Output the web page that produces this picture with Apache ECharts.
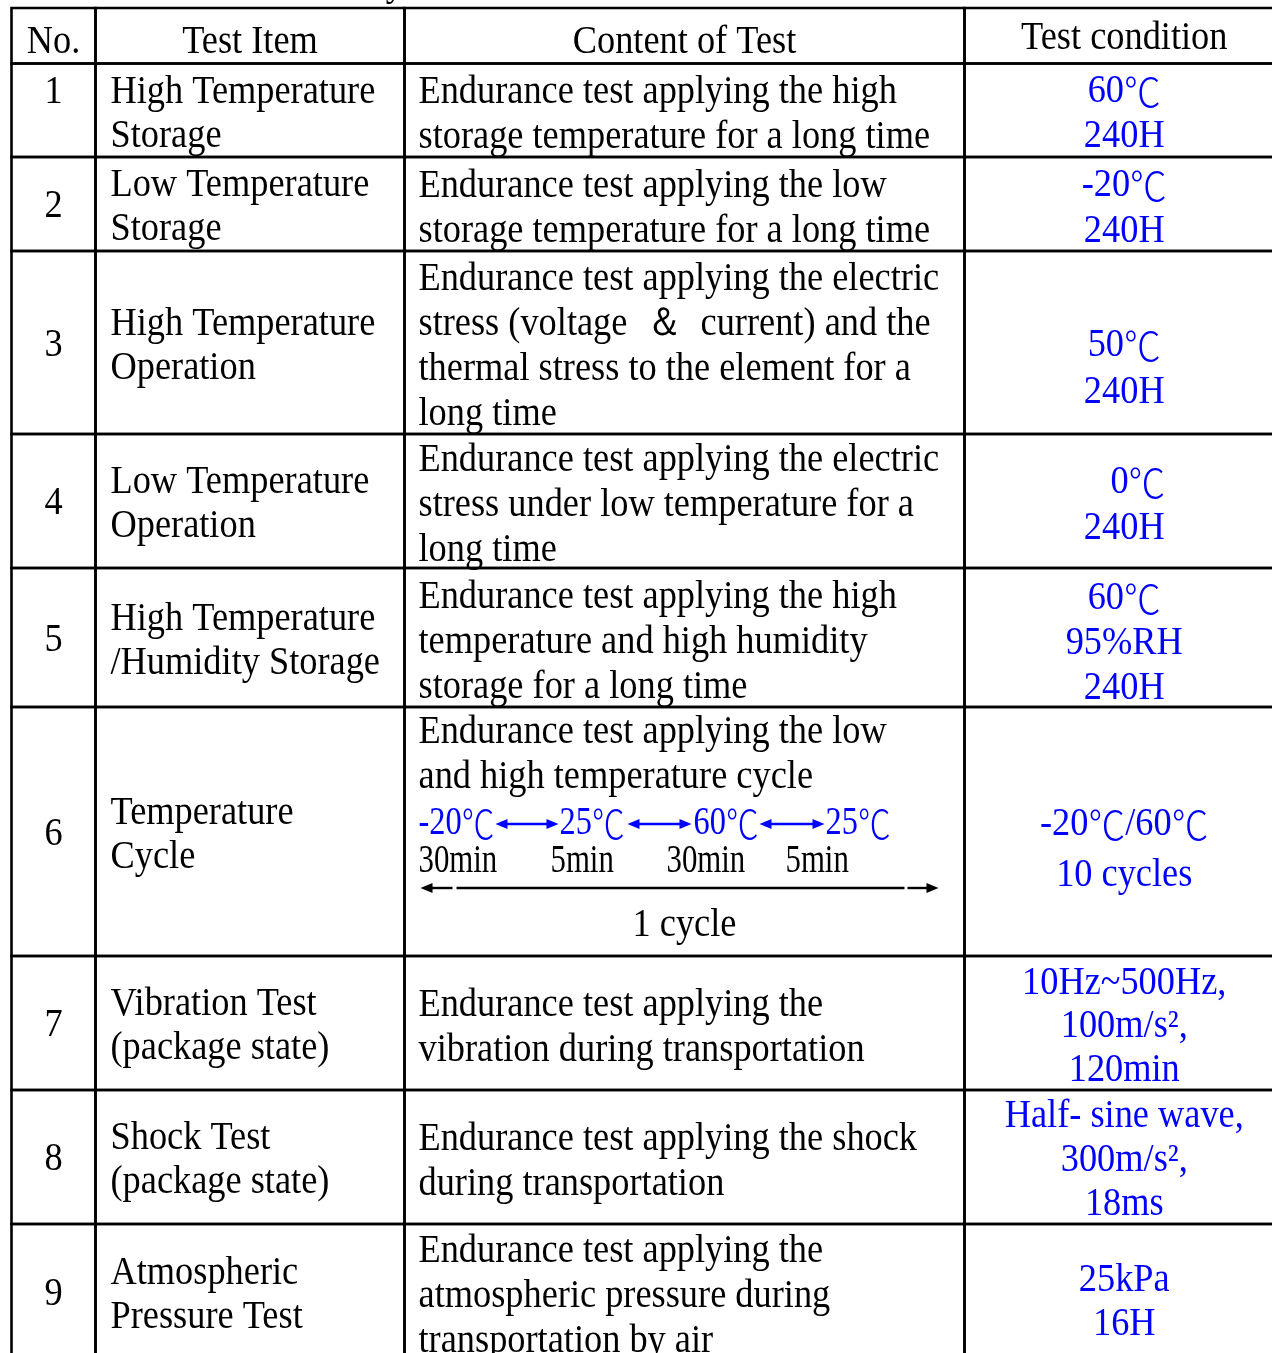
<!DOCTYPE html>
<html>
<head>
<meta charset="utf-8">
<script src="https://cdn.jsdelivr.net/npm/echarts@6/dist/echarts.min.js"></script>
<style>
html, body { margin: 0; padding: 0; background: #fff; }
#main { width: 1272px; height: 1353px; }
</style>
</head>
<body>
<div id="main"></div>
<script>
// table texts
var headers = ['No.', 'Test Item', 'Content of Test', 'Test condition'];
var testNos = ['1', '2', '3', '4', '5', '6', '7', '8', '9'];
var testItems = [
	'High Temperature\nStorage',
	'Low Temperature\nStorage',
	'High Temperature\nOperation',
	'Low Temperature\nOperation',
	'High Temperature\n/Humidity Storage',
	'Temperature\nCycle',
	'Vibration Test\n(package state)',
	'Shock Test\n(package state)',
	'Atmospheric\nPressure Test'
];
var testContents = [
	'Endurance test applying the high\nstorage temperature for a long time',
	'Endurance test applying the low\nstorage temperature for a long time',
	'Endurance test applying the electric\nstress (voltage  ＆  current) and the\nthermal stress to the element for a\nlong time',
	'Endurance test applying the electric\nstress under low temperature for a\nlong time',
	'Endurance test applying the high\ntemperature and high humidity\nstorage for a long time',
	'Endurance test applying the low\nand high temperature cycle',
	'Endurance test applying the\nvibration during transportation',
	'Endurance test applying the shock\nduring transportation',
	'Endurance test applying the\natmospheric pressure during\ntransportation by air'
];
var testConditions = [
	'60℃\n240H',
	'-20℃\n240H',
	'50℃\n240H',
	'   0℃\n240H',
	'60℃\n95%RH\n240H',
	'-20℃/60℃\n10 cycles',
	'10Hz~500Hz,\n100m/s²,\n120min',
	'Half- sine wave,\n300m/s²,\n18ms',
	'25kPa\n16H'
];
// temperature cycle detail (row 6)
var cycleTemps = ['-20℃', '25℃', '60℃', '25℃'];
var cycleTimes = ['30min', '5min', '30min', '5min'];
var cycleLabel = '1 cycle';
var cycleRow = 5;

// layout
var colEdges = [11.5, 95.5, 404.5, 964.5, 1284];
var rowEdges = [8, 63.5, 157, 251, 434, 568, 707, 956, 1090, 1224, 1360];
var headShift = [4, 4, 4, 0];
var noShift = [-21, 0, 0, 0, 0, 0, 0, 0, 0];
var condLine = [45, 46, 47, 46, 45, 51, 43.5, 44, 44];
var condShift = [1, 2, 24, 2, 3, 16, 1, 1, 8];
var tempOffsets = [14, 155, 289, 421];
var arrowSpans = [[91, 154], [223, 287], [355, 420]];
var timeOffsets = [14, 146, 262, 381];
var DY = 3;

var FONT = "'Liberation Serif', 'Times New Roman', serif";
var CJK = "'Noto Sans CJK SC', 'Noto Sans CJK JP', sans-serif";
var FS = 39.5;
var SX = 0.92;
var BLUE = '#0000ff';

function txt(x, y, text, align, color, lineHeight, sx) {
	var fill = color || '#000';
	var lh = lineHeight || 44;
	return {
		type: 'text',
		x: x,
		y: y + DY,
		scaleX: sx || SX,
		style: {
			text: String(text).replace(/℃/g, '{d|℃}'),
			fontFamily: FONT,
			fontSize: FS,
			fill: fill,
			align: align,
			verticalAlign: 'middle',
			lineHeight: lh,
			rich: {
				d: { fontFamily: CJK, fontSize: 40, fontWeight: 300, fill: fill, lineHeight: lh }
			}
		}
	};
}

function arrowHead(x, y, dir, color) {
	return {
		type: 'polygon',
		shape: { points: [[x, y], [x - dir * 12, y - 5], [x - dir * 12, y + 5]] },
		style: { fill: color }
	};
}

function renderCell(params, api) {
	var c = api.value(0);
	var r = api.value(1);
	var p0 = api.coord([colEdges[c], rowEdges[r]]);
	var p1 = api.coord([colEdges[c + 1], rowEdges[r + 1]]);
	var midX = (p0[0] + p1[0]) / 2;
	var midY = (p0[1] + p1[1]) / 2;
	var children = [{
		type: 'rect',
		shape: { x: p0[0], y: p0[1], width: p1[0] - p0[0], height: p1[1] - p0[1] },
		style: { fill: 'none', stroke: '#000', lineWidth: 2.6 }
	}];
	if (r == 0) {
		children.push(txt(midX, midY + headShift[c], headers[c], 'center'));
		return { type: 'group', children: children };
	}
	var i = r - 1;
	if (c == 0) {
		children.push(txt(midX, midY + noShift[i], testNos[i], 'center'));
	} else if (c == 1) {
		children.push(txt(p0[0] + 15, midY + 1, testItems[i], 'left', '#000', 44));
	} else if (c == 2) {
		if (i == cycleRow) {
			var top = p0[1];
			var left = p0[0];
			children.push(txt(left + 14, top + 45.5, testContents[i], 'left', '#000', 45));
			var k;
			for (k = 0; k < cycleTemps.length; k++) {
				children.push(txt(left + tempOffsets[k], top + 114, cycleTemps[k], 'left', BLUE, 44, 0.82));
			}
			// blue double arrows between temperatures
			var ty = top + 114 + DY;
			for (k = 0; k < arrowSpans.length; k++) {
				var xa = left + arrowSpans[k][0], xb = left + arrowSpans[k][1];
				children.push({ type: 'line', shape: { x1: xa + 6, y1: ty, x2: xb - 6, y2: ty }, style: { stroke: BLUE, lineWidth: 2.4 } });
				children.push(arrowHead(xa, ty, -1, BLUE));
				children.push(arrowHead(xb, ty, 1, BLUE));
			}
			for (k = 0; k < cycleTimes.length; k++) {
				children.push(txt(left + timeOffsets[k], top + 152, cycleTimes[k], 'left', '#000', 44, 0.78));
			}
			// 1 cycle span arrow
			var ay = top + 181;
			var ls = { stroke: '#000', lineWidth: 2.4 };
			children.push({ type: 'line', shape: { x1: left + 24, y1: ay, x2: left + 48, y2: ay }, style: ls });
			children.push({ type: 'line', shape: { x1: left + 52, y1: ay, x2: left + 500, y2: ay }, style: ls });
			children.push({ type: 'line', shape: { x1: left + 503, y1: ay, x2: left + 526, y2: ay }, style: ls });
			children.push(arrowHead(left + 16, ay, -1, '#000'));
			children.push(arrowHead(left + 534, ay, 1, '#000'));
			children.push(txt(midX, top + 216, cycleLabel, 'center'));
		} else {
			children.push(txt(p0[0] + 14, midY + 2, testContents[i], 'left', '#000', 45));
		}
	} else {
		children.push(txt(midX, midY + condShift[i], testConditions[i], 'center', BLUE, condLine[i]));
	}
	return { type: 'group', children: children };
}

var cells = [];
for (var r = 0; r < rowEdges.length - 1; r++) {
	for (var c = 0; c < colEdges.length - 1; c++) {
		cells.push([c, r]);
	}
}

var myChart = echarts.init(document.getElementById('main'));
myChart.setOption({
	animation: false,
	grid: { left: 0, right: 0, top: 0, bottom: 0 },
	xAxis: { type: 'value', min: 0, max: 1272, show: false },
	yAxis: { type: 'value', min: 0, max: 1353, inverse: true, show: false },
	graphic: [{
		type: 'text',
		x: 404,
		y: -15,
		scaleX: SX,
		style: { text: 'Reliability', fontFamily: FONT, fontSize: FS, fill: '#000', align: 'right', verticalAlign: 'middle' }
	}],
	series: [{
		type: 'custom',
		clip: false,
		renderItem: renderCell,
		data: cells
	}]
});
</script>
</body>
</html>
